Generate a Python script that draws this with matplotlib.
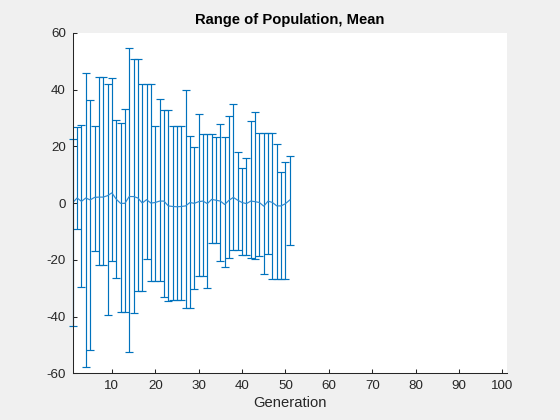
import numpy as np
import matplotlib
matplotlib.use('Agg')
import matplotlib.pyplot as plt

# generations 1..51, mean value and range (min / max) of population
generation = np.arange(1, 52)
pop_mean = [0.2, 1.8, 0.6, 1.8, 1.1, 2.0, 2.1, 2.1, 2.6, 3.6,
            1.4, -0.1, -0.1, 2.3, 2.3, 1.8, 0.0, 1.2, 0.0, 0.2,
            0.7, 0.7, -1.0, -1.2, -1.3, -1.2, -1.0, 0.2, -0.1, 0.5,
            0.7, -0.2, 1.3, 1.0, 0.7, -0.5, 1.0, 2.0, 1.0, 0.2,
            -0.2, 0.7, 0.5, 0.2, -1.1, 0.7, 0.2, -1.0, -1.0, -0.2,
            1.1]
pop_max = [22.7, 26.8, 27.5, 45.9, 36.4, 27.2, 44.5, 44.5, 42.1, 44.0,
           29.4, 28.2, 33.2, 54.7, 50.8, 50.8, 42.1, 42.1, 42.1, 27.2,
           36.7, 32.8, 32.8, 27.2, 27.2, 27.2, 39.9, 23.6, 19.8, 31.4,
           24.3, 24.3, 24.3, 23.3, 27.9, 23.3, 30.7, 34.9, 18.0, 12.4,
           15.9, 29.0, 32.1, 24.7, 24.7, 24.7, 24.7, 20.8, 10.9, 14.5,
           16.6]
pop_min = [-43.4, -9.2, -29.6, -57.8, -51.9, -16.9, -21.9, -21.9, -39.5, -20.5,
           -26.5, -38.5, -38.5, -52.6, -38.8, -31.0, -31.0, -19.8, -27.4, -27.4,
           -27.4, -33.2, -34.5, -34.1, -34.1, -34.1, -37.1, -37.1, -30.4, -25.8,
           -25.8, -30.0, -14.1, -14.1, -20.5, -22.6, -19.4, -16.6, -16.6, -18.4,
           -18.4, -19.4, -19.8, -18.7, -25.1, -17.9, -26.8, -26.8, -26.8, -26.8,
           -14.8]

pop_mean = np.array(pop_mean)
err_low = pop_mean - np.array(pop_min)
err_high = np.array(pop_max) - pop_mean

plt.rcParams['font.family'] = ['Liberation Sans', 'DejaVu Sans']
plt.rcParams['axes.unicode_minus'] = False

fig = plt.figure(figsize=(5.6, 4.2), dpi=100, facecolor='#f0f0f0')
ax = fig.add_axes([0.13, 0.111, 0.775, 0.811])
ax.set_facecolor('white')

blue = '#0072BD'
eb = ax.errorbar(generation, pop_mean, yerr=[err_low, err_high],
                 color=blue, ecolor=blue, elinewidth=0.85, capsize=2.9,
                 capthick=0.85, linewidth=0.85)
eb[0].set_color('#2f8ad0')
for part in eb.lines[1] + eb.lines[2]:
    part.set_clip_on(False)

ax.set_xlim(1, 101)
ax.set_ylim(-60, 60)
ax.set_xticks(np.arange(10, 101, 10))
ax.set_yticks(np.arange(-60, 61, 20))

for s in ['top', 'right']:
    ax.spines[s].set_visible(False)
for s in ['left', 'bottom']:
    ax.spines[s].set_color('#262626')
    ax.spines[s].set_linewidth(0.75)
ax.tick_params(direction='in', length=3, width=0.75, colors='#262626',
               labelsize=9.6, pad=5)

ax.set_title('Range of Population, Mean', fontsize=10.6, fontweight='bold',
             color='black', pad=6)
ax.set_xlabel('Generation', fontsize=10.6, color='#262626', labelpad=3)

fig.savefig('out.png', dpi=100, facecolor=fig.get_facecolor())
